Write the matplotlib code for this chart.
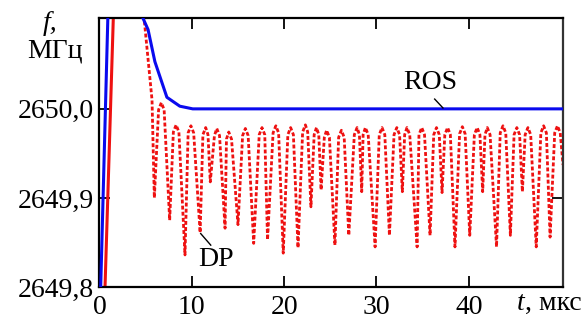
import matplotlib
matplotlib.use("Agg")
import matplotlib.pyplot as plt
from matplotlib.ticker import FixedLocator

# ---- data ----
ros_t = [0.08, 0.95, 4.55, 4.7, 5.26, 6.0, 7.3, 8.7, 10.1, 50.3]
ros_f = [2649.78, 2650.12, 2650.12, 2650.102, 2650.089, 2650.053, 2650.013, 2650.003, 2650.0, 2650.0]

dp_rise_t = [0.54, 1.55]
dp_rise_f = [2649.78, 2650.12]

dp_t = [4.8, 4.93, 5.69, 5.94,
        6.4, 6.7, 7.0, 7.6,
        8.0, 8.3, 8.6, 9.26,
        9.6, 9.9, 10.2, 10.9,
        11.2, 11.5, 11.75, 12.0,
        12.45, 12.7, 13.0, 13.6,
        13.75, 14.0, 14.3, 15.0,
        15.5, 15.8, 16.1, 16.7,
        17.3, 17.6, 17.9, 18.2,
        18.8, 19.1, 19.4, 19.9,
        20.4, 20.7, 21.0, 21.5,
        22.0, 22.3, 22.55, 22.9,
        23.25, 23.5, 23.75, 24.0,
        24.35, 24.6, 24.9, 25.5,
        25.9, 26.2, 26.5, 27.0,
        27.6, 27.9, 28.15, 28.4,
        28.55, 28.8, 29.1, 29.85,
        30.3, 30.6, 30.9, 31.4,
        31.9, 32.2, 32.5, 32.8,
        33.05, 33.3, 33.6, 34.4,
        34.6, 34.9, 35.2, 35.8,
        36.2, 36.5, 36.8, 37.1,
        37.4, 37.7, 38.0, 38.5,
        39.0, 39.3, 39.6, 40.1,
        40.6, 40.9, 41.2, 41.5,
        41.75, 42.0, 42.3, 43.0,
        43.4, 43.7, 44.0, 44.5,
        44.9, 45.2, 45.5, 45.8,
        46.1, 46.4, 46.7, 47.3,
        47.8, 48.1, 48.4, 48.8,
        49.3, 49.6, 49.9, 50.2]
dp_f = [2650.105, 2650.091, 2650.010, 2649.900,
        2649.999, 2650.007, 2649.999, 2649.875,
        2649.974, 2649.982, 2649.974, 2649.836,
        2649.973, 2649.981, 2649.973, 2649.861,
        2649.971, 2649.979, 2649.971, 2649.918,
        2649.970, 2649.978, 2649.970, 2649.866,
        2649.966, 2649.974, 2649.966, 2649.870,
        2649.970, 2649.978, 2649.970, 2649.849,
        2649.971, 2649.979, 2649.971, 2649.853,
        2649.973, 2649.981, 2649.973, 2649.838,
        2649.971, 2649.979, 2649.971, 2649.844,
        2649.974, 2649.982, 2649.974, 2649.890,
        2649.971, 2649.979, 2649.971, 2649.909,
        2649.968, 2649.976, 2649.968, 2649.847,
        2649.968, 2649.976, 2649.968, 2649.858,
        2649.971, 2649.979, 2649.971, 2649.907,
        2649.971, 2649.979, 2649.971, 2649.845,
        2649.971, 2649.979, 2649.971, 2649.858,
        2649.971, 2649.979, 2649.971, 2649.907,
        2649.971, 2649.979, 2649.971, 2649.845,
        2649.971, 2649.979, 2649.971, 2649.858,
        2649.971, 2649.979, 2649.971, 2649.906,
        2649.971, 2649.979, 2649.971, 2649.845,
        2649.972, 2649.980, 2649.972, 2649.858,
        2649.971, 2649.979, 2649.971, 2649.907,
        2649.971, 2649.979, 2649.971, 2649.845,
        2649.973, 2649.981, 2649.973, 2649.858,
        2649.971, 2649.979, 2649.971, 2649.907,
        2649.971, 2649.979, 2649.971, 2649.845,
        2649.973, 2649.981, 2649.973, 2649.856,
        2649.973, 2649.981, 2649.973, 2649.937]
assert len(dp_t) == len(dp_f)

x_ticks = [0, 10, 20, 30, 40]
x_ticklabels = ["0", "10", "20", "30", "40"]
y_ticks = [2649.8, 2649.9, 2650.0]
y_ticklabels = ["2649,8", "2649,9", "2650,0"]

plt.rcParams['font.family'] = ['Liberation Serif', 'DejaVu Serif']

fig = plt.figure(figsize=(5.88, 3.24), dpi=100)
ax = fig.add_axes([0.1692, 0.1142, 0.7883, 0.8302])

blue = '#0a0aee'
red = '#ee1111'
ax.plot(ros_t, ros_f, color=blue, lw=2.2, solid_capstyle='butt', zorder=3)
ax.plot(dp_rise_t, dp_rise_f, color=red, lw=2.2, zorder=2)
ax.plot(dp_t, dp_f, color=red, lw=2.0, linestyle=(0, (1.4, 0.8)), zorder=2)

ax.set_xlim(0, 50.2)
ax.set_ylim(2649.8, 2650.102)

ax.xaxis.set_major_locator(FixedLocator(x_ticks))
ax.set_xticklabels(x_ticklabels)
ax.yaxis.set_major_locator(FixedLocator(y_ticks))
ax.set_yticklabels(y_ticklabels)
ax.tick_params(axis='both', which='major', direction='in', length=8, width=1.3,
               labelsize=20, top=True, right=True, pad=4, colors='black')
ax.tick_params(axis='x', pad=6)

for side, sp in ax.spines.items():
    sp.set_linewidth(1.6)
    sp.set_color('black')
ax.spines['right'].set_color('#333333')

# annotations
ax.text(35.8, 2650.030, "ROS", fontsize=20, ha='center', va='center')
ax.plot([36.3, 37.2], [2650.011, 2650.001], color='black', lw=1.0, zorder=4)
ax.text(12.6, 2649.831, "DP", fontsize=20, ha='center', va='center')
ax.plot([10.96, 12.05], [2649.860, 2649.847], color='black', lw=1.0, zorder=4)

# axis labels
fig.text(50 / 588, 1 - 23 / 324, "f,", fontsize=20, style='italic', ha='center', va='center')
fig.text(55 / 588, 1 - 51 / 324, "МГц", fontsize=20, ha='center', va='center')
fig.text(517 / 588, 1 - 303 / 324, "t", fontsize=20, style='italic', ha='left', va='center')
fig.text(525 / 588, 1 - 303 / 324, ", мкс", fontsize=20, ha='left', va='center')

fig.savefig("out.png", dpi=100)
